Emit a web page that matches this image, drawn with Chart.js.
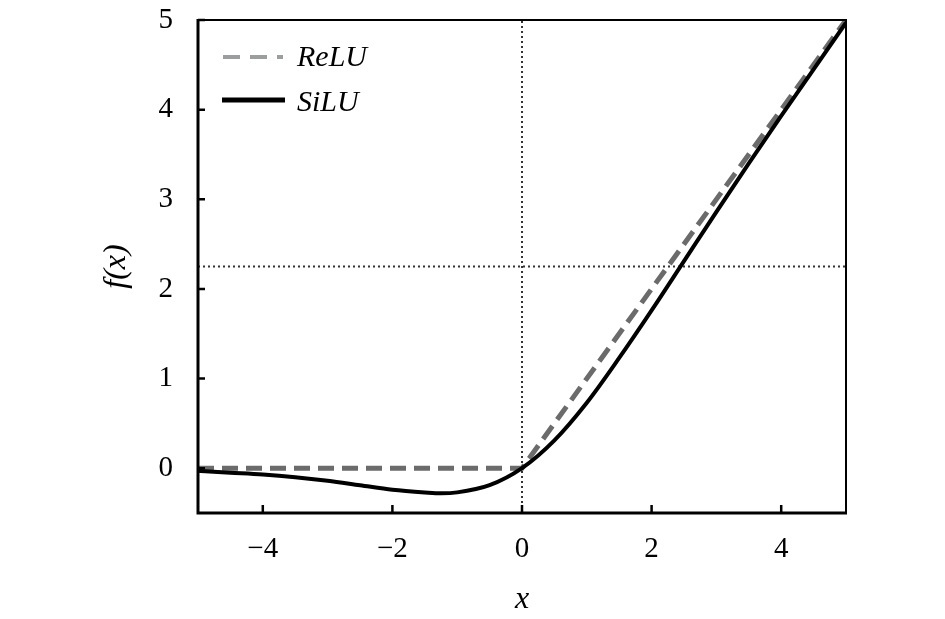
<!DOCTYPE html>
<html>
<head>
  <meta charset="utf-8" />
  <title>ReLU vs SiLU</title>
  <script src="https://cdn.jsdelivr.net/npm/chart.js"></script>
  <style>
    body { margin: 0; background: #fff; }
    #wrap { width: 945px; height: 619px; }
  </style>
</head>
<body>
<div id="wrap"><canvas id="chart" width="945" height="619"></canvas></div>

<script>
  // values
  const xTicks = [-4, -2, 0, 2, 4];
  const yTicks = [0, 1, 2, 3, 4, 5];

  const reluX = [-5, 0, 5];
  const reluY = [0, 0, 5];

  const siluX = [-5, -4.5, -4, -3.5, -3, -2.5, -2, -1.5, -1.25, -1, -0.5, 0, 0.5, 1, 1.5, 2, 2.5, 3, 3.5, 4, 4.5, 5];
  const siluY = [-0.03, -0.05, -0.07, -0.10, -0.14, -0.19, -0.24, -0.27, -0.28, -0.27, -0.19, 0, 0.31, 0.73, 1.23, 1.76, 2.31, 2.86, 3.40, 3.93, 4.45, 4.97];

  // dotted guide lines
  const guideX = 0;
  const guideY = 2.25;

  const toPoints = (xs, ys) => xs.map((x, i) => ({ x: x, y: ys[i] }));
  const serif = '"Liberation Serif", "Times New Roman", serif';

  // frame, inward ticks and the legend box
  const framePlugin = {
    id: 'frame',
    afterDatasetsDraw(chart) {
      const ctx = chart.ctx;
      const a = chart.chartArea;
      const xs = chart.scales.x, ys = chart.scales.y;
      ctx.save();
      ctx.strokeStyle = '#000';
      ctx.lineCap = 'butt';

      // top + right (thin)
      ctx.lineWidth = 2;
      ctx.beginPath();
      ctx.moveTo(a.left, a.top);
      ctx.lineTo(a.right, a.top);
      ctx.lineTo(a.right, a.bottom);
      ctx.stroke();

      // left + bottom (thicker)
      ctx.lineWidth = 3;
      ctx.beginPath();
      ctx.moveTo(a.left, a.top - 1);
      ctx.lineTo(a.left, a.bottom);
      ctx.lineTo(a.right + 1, a.bottom);
      ctx.stroke();

      ctx.lineWidth = 2.5;
      ctx.beginPath();
      xTicks.forEach(v => {
        const px = xs.getPixelForValue(v);
        ctx.moveTo(px, a.bottom);
        ctx.lineTo(px, a.bottom - 8);
      });
      yTicks.forEach(v => {
        const py = ys.getPixelForValue(v);
        ctx.moveTo(a.left, py);
        ctx.lineTo(a.left + 7, py);
      });
      ctx.stroke();
      ctx.restore();
    },
    afterDraw(chart) {
      const ctx = chart.ctx;
      const a = chart.chartArea;
      const ds = chart.data.datasets;
      ctx.save();
      ctx.font = 'italic 30px ' + serif;
      ctx.fillStyle = '#000';
      ctx.textBaseline = 'alphabetic';

      // ReLU entry
      ctx.strokeStyle = '#9a9e9f';
      ctx.lineWidth = 4;
      ctx.setLineDash([17, 10]);
      ctx.beginPath();
      ctx.moveTo(a.left + 25, a.top + 37);
      ctx.lineTo(a.left + 85, a.top + 37);
      ctx.stroke();
      ctx.fillText(ds[0].label, a.left + 99, a.top + 46);

      // SiLU entry
      ctx.strokeStyle = '#000';
      ctx.lineWidth = 5;
      ctx.setLineDash([]);
      ctx.beginPath();
      ctx.moveTo(a.left + 24, a.top + 80);
      ctx.lineTo(a.left + 87, a.top + 80);
      ctx.stroke();
      ctx.fillText(ds[1].label, a.left + 99, a.top + 91);
      ctx.restore();
    }
  };

  new Chart(document.getElementById('chart'), {
    type: 'scatter',
    data: {
      datasets: [
        {
          label: 'ReLU',
          data: toPoints(reluX, reluY),
          showLine: true,
          borderColor: '#6b6b6b',
          borderWidth: 5,
          borderDash: [16, 8],
          pointRadius: 0,
          order: 2
        },
        {
          label: 'SiLU',
          data: toPoints(siluX, siluY),
          showLine: true,
          borderColor: '#000',
          borderWidth: 4,
          cubicInterpolationMode: 'monotone',
          pointRadius: 0,
          order: 1
        },
        {
          label: 'guide-v',
          data: [{ x: guideX, y: -0.5 }, { x: guideX, y: 5 }],
          showLine: true,
          borderColor: '#333',
          borderWidth: 2,
          borderDash: [2, 3],
          pointRadius: 0,
          order: 3
        },
        {
          label: 'guide-h',
          data: [{ x: -5, y: guideY }, { x: 5, y: guideY }],
          showLine: true,
          borderColor: '#333',
          borderWidth: 2,
          borderDash: [2, 3],
          pointRadius: 0,
          order: 3
        }
      ]
    },
    options: {
      responsive: false,
      animation: false,
      layout: { padding: { top: 20, right: 99, left: 0, bottom: 0 } },
      plugins: {
        legend: { display: false },
        tooltip: { enabled: false }
      },
      scales: {
        x: {
          type: 'linear',
          min: -5,
          max: 5,
          afterBuildTicks: s => { s.ticks = xTicks.map(v => ({ value: v })); },
          afterFit: s => { s.height = 106; s.paddingLeft = 0; s.paddingRight = 0; },
          grid: { display: false, drawTicks: false },
          border: { display: false },
          ticks: {
            color: '#000',
            padding: 19,
            font: { family: serif, size: 29 },
            callback: v => (v < 0 ? '\u2212' + Math.abs(v) : String(v))
          },
          title: {
            display: true,
            text: 'x',
            color: '#000',
            font: { family: serif, size: 32, style: 'italic' },
            padding: { top: 0, bottom: 0 }
          }
        },
        y: {
          type: 'linear',
          min: -0.5,
          max: 5,
          afterBuildTicks: s => { s.ticks = yTicks.map(v => ({ value: v })); },
          afterFit: s => { s.width = 198; s.paddingTop = 0; s.paddingBottom = 0; },
          grid: { display: false, drawTicks: false },
          border: { display: false },
          ticks: {
            color: '#000',
            padding: 25,
            font: { family: serif, size: 29 }
          },
          title: {
            display: true,
            text: 'f(x)',
            color: '#000',
            font: { family: serif, size: 32, style: 'italic' },
            padding: { top: 97, bottom: 0 }
          }
        }
      }
    },
    plugins: [framePlugin]
  });
</script>
</body>
</html>
